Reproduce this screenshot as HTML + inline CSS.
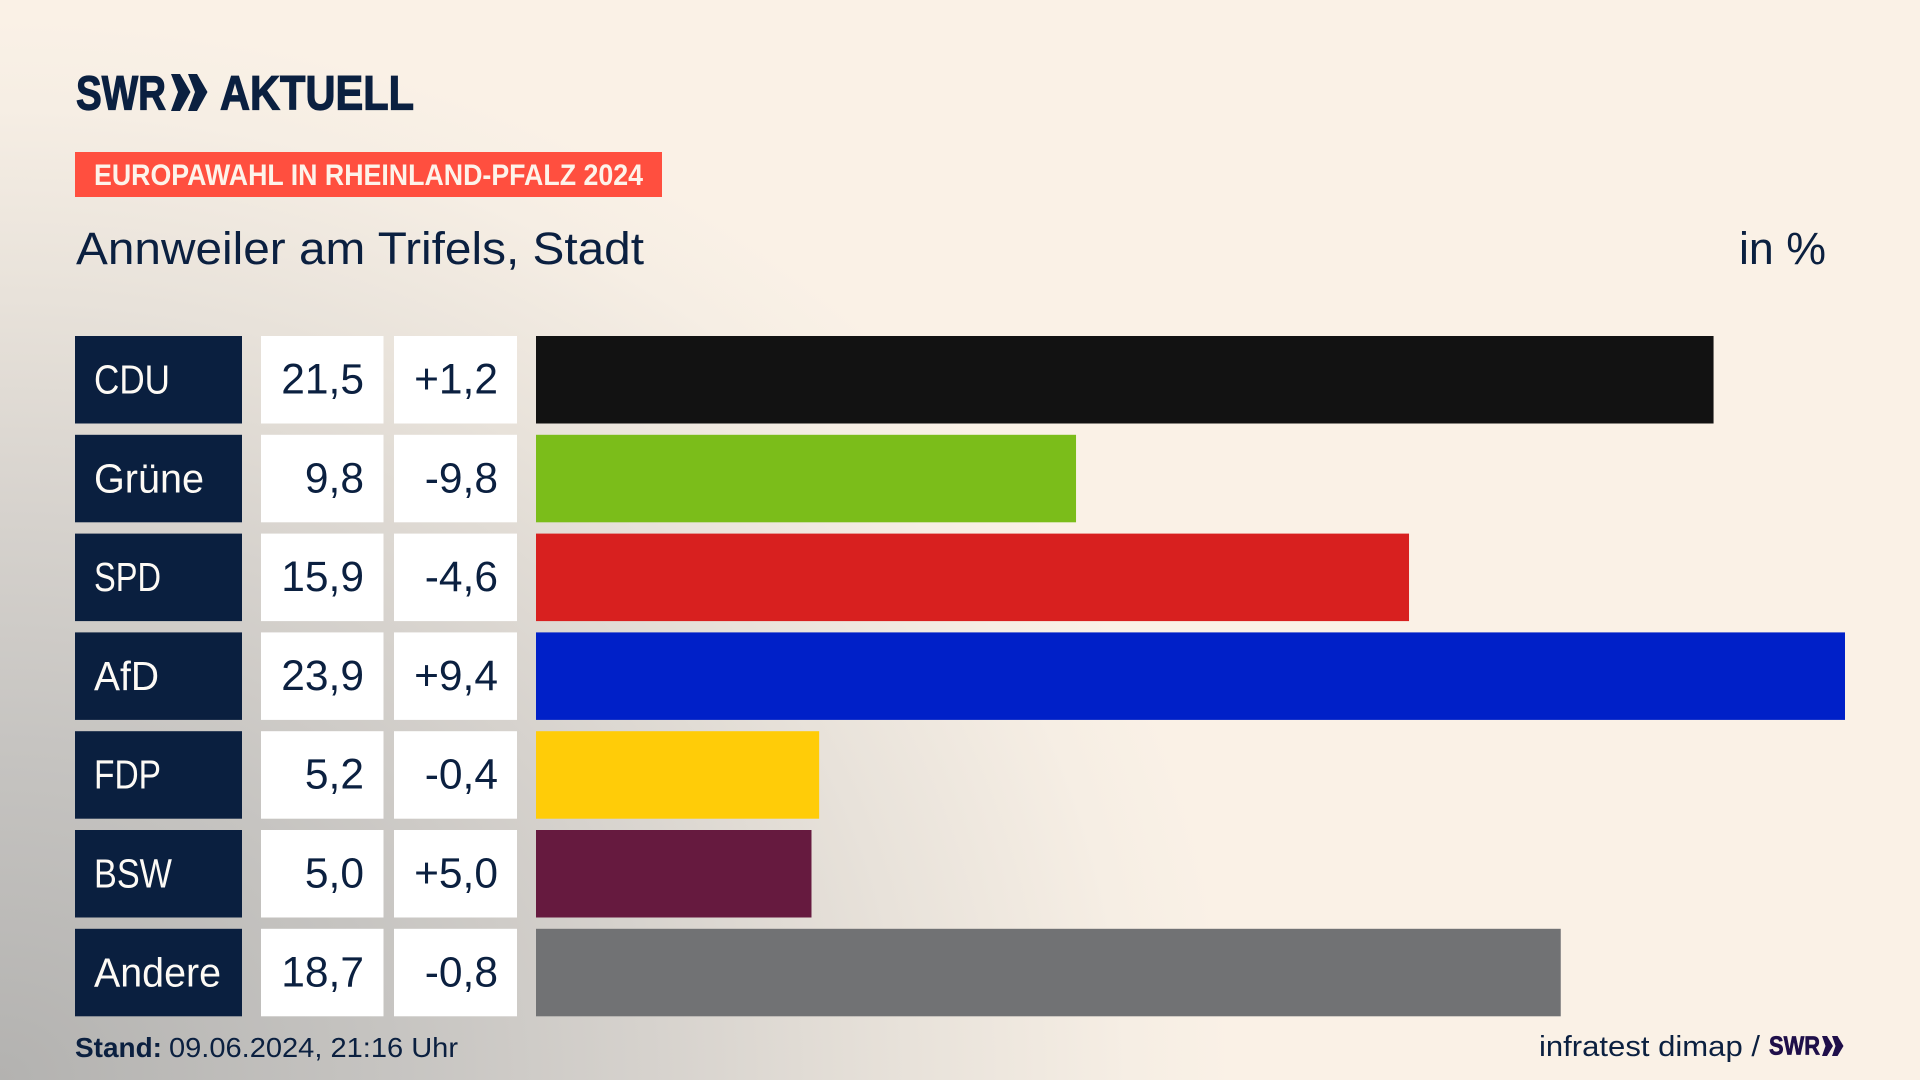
<!DOCTYPE html>
<html lang="de">
<head>
<meta charset="utf-8">
<title>Europawahl in Rheinland-Pfalz 2024 – Annweiler am Trifels, Stadt</title>
<style>
html,body{margin:0;padding:0;width:1920px;height:1080px;overflow:hidden;background:#faf1e6}
#stage{position:absolute;left:0;top:0;width:1920px;height:1080px;
background:radial-gradient(ellipse 1300px 1120px at 0 1080px,#b3b2b0 0%,#c6c4c1 30%,#d6d2cd 50%,#e8e2da 70%,#f6eee4 87%,#faf1e6 95%),#faf1e6}
svg{position:absolute;left:0;top:0}
text{font-family:"Liberation Sans",sans-serif;fill:#0b2040}
</style>
</head>
<body>
<div id="stage">
<svg id="chart" width="1920" height="1080" viewBox="0 0 1920 1080">
  <g>
    <text x="76" y="109.5" font-size="48" font-weight="700" stroke="#0b2040" stroke-width="1.2" textLength="90" lengthAdjust="spacingAndGlyphs">SWR</text>
    <polygon points="171,74 180,74 190.5,92 180,111 171,111 178,92" fill="#0b2040"/>
    <polygon points="188,74 197,74 207.5,92 197,111 188,111 195,92" fill="#0b2040"/>
    <text x="220" y="109.5" font-size="48" font-weight="700" stroke="#0b2040" stroke-width="1.2" textLength="194" lengthAdjust="spacingAndGlyphs">AKTUELL</text>
  </g>
  <rect x="75" y="152" width="587" height="45" fill="#ff4f3f"/>
  <text x="94" y="185" font-size="30" font-weight="700" style="fill:#fdf3ea" textLength="549" lengthAdjust="spacingAndGlyphs">EUROPAWAHL IN RHEINLAND-PFALZ 2024</text>
  <text x="76" y="264" font-size="45" textLength="568" lengthAdjust="spacingAndGlyphs">Annweiler am Trifels, Stadt</text>
  <text x="1739" y="264" font-size="45" textLength="87" lengthAdjust="spacingAndGlyphs">in %</text>
  <g id="rows"></g>
  <g>
    <text x="75" y="1057" font-size="28" font-weight="700" textLength="87" lengthAdjust="spacingAndGlyphs">Stand:</text>
    <text x="169" y="1057" font-size="28" textLength="289" lengthAdjust="spacingAndGlyphs">09.06.2024, 21:16 Uhr</text>
    <text x="1539" y="1056" font-size="29" textLength="221" lengthAdjust="spacingAndGlyphs">infratest dimap /</text>
    <text x="1769" y="1054.5" font-size="26" font-weight="700" stroke="#1f0f4a" stroke-width="0.7" style="fill:#1f0f4a" textLength="51" lengthAdjust="spacingAndGlyphs">SWR</text>
    <polygon points="1822,1036 1827,1036 1833,1046 1827,1056 1822,1056 1825.5,1046" fill="#1f0f4a"/>
    <polygon points="1832,1036 1837.5,1036 1843.5,1046 1837.5,1056 1832,1056 1835.5,1046" fill="#1f0f4a"/>
  </g>
</svg>
</div>
<script>
const parties = ["CDU", "Grüne", "SPD", "AfD", "FDP", "BSW", "Andere"];
// Bar lengths
const shares = [21.5, 9.86, 15.94, 23.9, 5.17, 5.03, 18.71];
// Printed values as shown in the picture
const shareLabels = ["21,5", "9,8", "15,9", "23,9", "5,2", "5,0", "18,7"];
const changeLabels = ["+1,2", "-9,8", "-4,6", "+9,4", "-0,4", "+5,0", "-0,8"];
const partyColors = ["#121212", "#7bbd1a", "#d8201f", "#0020c8", "#ffcc08", "#661a3f", "#717274"];

const NS = "http://www.w3.org/2000/svg";
const rowsGroup = document.getElementById("rows");
const barStart = 536, barFullWidth = 1309, scaleMax = 23.9;
const rowTop = 336, rowPitch = 98.8, rowHeight = 87.5;
const labelFit = { "CDU": 76, "Grüne": 110, "SPD": 67, "AfD": 65, "FDP": 67, "BSW": 78, "Andere": 127 };

function xScale(v) { return v / scaleMax * barFullWidth; }
function yScale(i) { return rowTop + i * rowPitch; }
function slug(s) { return s.toLowerCase().replace("ü", "ue"); }

function makeRect(x, y, w, h, fill) {
  const r = document.createElementNS(NS, "rect");
  r.setAttribute("x", x);
  r.setAttribute("y", y);
  r.setAttribute("width", w);
  r.setAttribute("height", h);
  r.setAttribute("fill", fill);
  return r;
}
function makeText(x, y, str, anchor, fill, size) {
  const t = document.createElementNS(NS, "text");
  t.setAttribute("x", x);
  t.setAttribute("y", y);
  t.setAttribute("font-size", size);
  t.setAttribute("text-anchor", anchor);
  t.style.fill = fill;
  t.textContent = str;
  return t;
}

parties.forEach(function (party, i) {
  const y = yScale(i), base = y + 57.5, key = slug(party);

  const labelBox = makeRect(75, y, 167, rowHeight, "#0a1f3f");
  
  
  rowsGroup.appendChild(labelBox);

  const label = makeText(94, base, party, "start", "#fdfaf5", 41);
  label.setAttribute("textLength", labelFit[party]);
  label.setAttribute("lengthAdjust", "spacingAndGlyphs");
  
  
  rowsGroup.appendChild(label);

  const shareBox = makeRect(261, y, 122.5, rowHeight, "#ffffff");
  
  
  rowsGroup.appendChild(shareBox);

  const shareText = makeText(364, base, shareLabels[i], "end", "#0b2040", 42.5);
  
  
  rowsGroup.appendChild(shareText);

  const changeBox = makeRect(394, y, 123, rowHeight, "#ffffff");
  
  
  rowsGroup.appendChild(changeBox);

  const changeText = makeText(498, base, changeLabels[i], "end", "#0b2040", 42.5);
  
  
  rowsGroup.appendChild(changeText);

  const bar = makeRect(barStart, y, xScale(shares[i]), rowHeight, partyColors[i]);
  
  
  rowsGroup.appendChild(bar);
});
</script>
</body>
</html>
